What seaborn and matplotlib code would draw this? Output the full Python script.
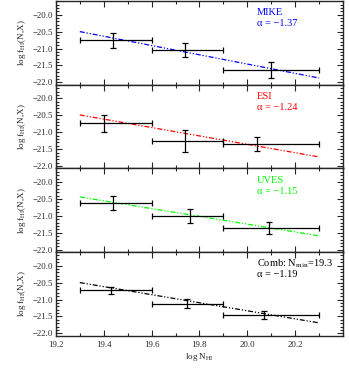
import numpy as np
import pandas as pd
import matplotlib
matplotlib.use("Agg")
import matplotlib.pyplot as plt
import seaborn as sns
from matplotlib.ticker import MultipleLocator

# survey names and colours
surveys = ["MIKE", "ESI", "UVES", "Comb"]
colors = ["blue", "red", "#00ff00", "black"]
labels = ["MIKE", "ESI", "UVES", r"Comb: N$_{\rm min}$=19.3"]

# N_HI bins (low/high edges) and bin centres per survey
bin_lo = [19.3, 19.6, 19.9]
bin_hi = [19.6, 19.9, 20.3]
x_mike = [19.44, 19.74, 20.10]
x_esi = [19.40, 19.74, 20.04]
x_uves = [19.44, 19.76, 20.09]
x_comb = [19.43, 19.75, 20.07]

# log f_HI(N,X) values and errors
y_mike = [-20.76, -21.05, -21.63]
e_mike = [0.21, 0.21, 0.23]
y_esi = [-20.74, -21.26, -21.35]
e_esi = [0.25, 0.32, 0.20]
y_uves = [-20.62, -21.00, -21.36]
e_uves = [0.20, 0.20, 0.19]
y_comb = [-20.73, -21.12, -21.46]
e_comb = [0.10, 0.13, 0.12]

# power-law fits: slope alpha and value at log N = 19.3
alpha = [-1.37, -1.24, -1.15, -1.19]
fit_y0 = [-20.50, -20.49, -20.44, -20.50]
fit_x = [19.3, 20.3]

# tick labels
x_ticks = [19.2, 19.4, 19.6, 19.8, 20.0, 20.2]
y_ticks = [-20.0, -20.5, -21.0, -21.5, -22.0]

xs = [x_mike, x_esi, x_uves, x_comb]
ys = [y_mike, y_esi, y_uves, y_comb]
es = [e_mike, e_esi, e_uves, e_comb]

sns.set_style("ticks")
plt.rcParams['font.family'] = ['Liberation Serif', 'DejaVu Serif']
plt.rcParams['mathtext.fontset'] = 'stix'

fig, axes = plt.subplots(4, 1, figsize=(3.49, 3.71), dpi=100, sharex=True)
fig.subplots_adjust(left=0.16, right=0.983, bottom=0.095, top=0.997, hspace=0)

lo = np.array(bin_lo)
hi = np.array(bin_hi)

for i, ax in enumerate(axes):
    x = np.array(xs[i])
    fit = pd.DataFrame({"x": fit_x,
                        "y": [fit_y0[i] + alpha[i] * (v - fit_x[0]) for v in fit_x]})
    sns.lineplot(data=fit, x="x", y="y", ax=ax, color=colors[i], lw=0.9,
                 dashes=False, legend=False)
    ax.lines[-1].set_dashes([4, 1.5, 1, 1.5, 1, 1.5])
    ax.errorbar(x, ys[i], xerr=[x - lo, hi - x], yerr=es[i], fmt='none',
                ecolor='black', elinewidth=0.9, capsize=2, capthick=0.9)
    ax.text(0.70, 0.86, labels[i], color=colors[i], fontsize=7.5,
            transform=ax.transAxes, va='center')
    ax.text(0.70, 0.73, r"α = −%.2f" % abs(alpha[i]), color=colors[i],
            fontsize=7.5, transform=ax.transAxes, va='center')
    ax.set_xlim(19.2, 20.4)
    ax.set_ylim(-22.07, -19.6)
    ax.set_xticks(x_ticks)
    ax.xaxis.set_minor_locator(MultipleLocator(0.1))
    ax.set_yticks(y_ticks)
    ax.set_yticklabels(["−%.1f" % abs(v) for v in y_ticks])
    ax.yaxis.set_minor_locator(MultipleLocator(0.1))
    ax.tick_params(which='both', direction='in', top=True, right=True,
                   labelsize=6.3, width=0.8)
    ax.tick_params(axis='y', pad=2)
    ax.tick_params(axis='x', pad=4)
    ax.tick_params(which='major', length=4)
    ax.tick_params(which='minor', length=2)
    for s in ax.spines.values():
        s.set_linewidth(1.0)
    ax.set_ylabel(r"log f$_{\rm HI}$(N,X)", fontsize=6.5, labelpad=3)
    ax.set_xlabel("")

axes[-1].set_xticklabels(["%.1f" % v for v in x_ticks])
axes[-1].set_xlabel(r"log N$_{\rm HI}$", fontsize=6.5, labelpad=1)

plt.savefig("out.png", dpi=100)
